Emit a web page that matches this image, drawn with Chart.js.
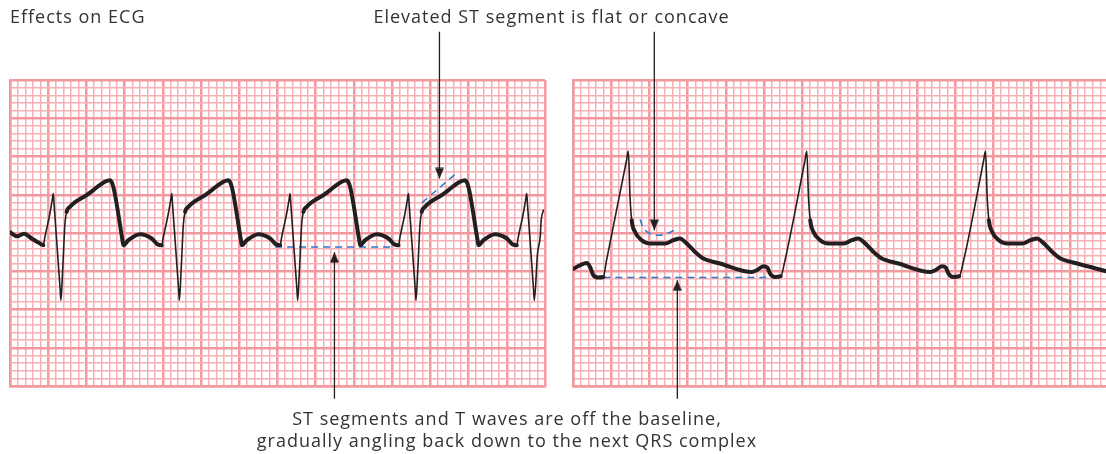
<!DOCTYPE html>
<html>
<head>
<meta charset="utf-8">
<script src="https://cdn.jsdelivr.net/npm/chart.js@4.4.1/dist/chart.umd.min.js"></script>
<style>
html,body{margin:0;padding:0;background:#fff;overflow:hidden}
#wrap{position:relative;width:1106px;height:454px;overflow:hidden;font-family:"Open Sans","Liberation Sans",sans-serif;color:#333}
canvas{position:absolute;top:0}
#cl{left:0;width:556px;height:454px}
#cr{left:563px;width:554px;height:454px}
.txt{position:absolute;white-space:nowrap;font-size:18px;line-height:22px;letter-spacing:1px}
</style>
</head>
<body>
<div id="wrap">
<canvas id="cl" width="556" height="454"></canvas>
<canvas id="cr" width="554" height="454"></canvas>
<div class="txt" style="left:10px;top:5px">Effects on ECG</div>
<div class="txt" style="left:0;width:1103px;text-align:center;top:5px">Elevated ST segment is flat or concave</div>
<div class="txt" style="left:0;width:1014px;text-align:center;top:407px">ST segments and T waves are off the baseline,<br>gradually angling back down to the next QRS complex</div>
</div>
<script>
// ============ DATA (units = small squares of ECG paper) ============
// left strip: sinus rhythm with upsloping ST elevation
const leftEcgX = [0,0.92,1.83,2.88,3.93,4.36,
  4.57,5.22,5.54,5.67,5.77,6.57,6.66,6.89,7.19,7.41,7.84,10.12,12.42,13.08,13.52,14.70,14.83,15.49,17.01,18.54,19.28,19.85,
  20.07,20.72,21.04,21.17,21.27,22.07,22.16,22.39,22.69,22.91,23.34,25.62,27.92,28.58,29.02,30.20,30.33,30.99,32.51,34.04,34.78,35.35,
  35.55,36.20,36.52,36.65,36.75,37.55,37.64,37.87,38.17,38.39,38.82,41.10,43.40,44.06,44.50,45.68,45.81,46.47,47.99,49.52,50.26,50.83,
  51.03,51.68,52.00,52.13,52.23,53.03,53.12,53.35,53.65,53.87,54.30,56.58,58.88,59.54,59.98,61.16,61.29,61.95,63.47,65.00,65.74,66.31,
  66.51,67.16,67.48,67.61,67.71,68.51,68.60,69.02,69.37,69.50,69.80];
const leftEcgY = [20.10,19.58,19.91,19.25,18.63,18.40,
  19.49,22.55,24.40,25.17,23.70,12.51,11.20,15.13,21.24,22.76,23.42,25.01,26.69,26.91,26.03,19.16,18.40,19.06,19.84,19.28,18.53,18.40,
  19.49,22.55,24.40,25.17,23.70,12.51,11.20,15.13,21.24,22.76,23.42,25.01,26.69,26.91,26.03,19.16,18.40,19.06,19.84,19.28,18.53,18.40,
  19.49,22.55,24.40,25.17,23.70,12.51,11.20,15.13,21.24,22.76,23.42,25.01,26.69,26.91,26.03,19.16,18.40,19.06,19.84,19.28,18.53,18.40,
  19.49,22.55,24.40,25.17,23.70,12.51,11.20,15.13,21.24,22.76,23.42,25.01,26.69,26.91,26.03,19.16,18.40,19.06,19.84,19.28,18.53,18.40,
  19.49,22.55,24.40,25.17,23.70,12.51,11.20,17.32,19.49,21.68,22.98];

// right strip: tall R waves, concave ST, slow slope back to next QRS
const rightEcgX = [0,0.92,1.79,2.23,2.66,3.31,3.97,4.36,6.98,
  7.24,7.46,7.68,8.12,8.99,10.08,12.04,13.13,14.01,14.66,15.97,17.06,19.24,23.39,24.04,24.91,25.43,25.79,26.44,27.19,27.71,30.33,
  30.59,30.81,31.04,31.47,32.34,33.43,35.39,36.48,37.36,38.01,39.32,40.41,42.59,46.74,47.40,48.26,48.78,49.14,49.79,50.54,51.09,53.71,
  53.97,54.19,54.42,54.85,55.72,56.81,58.77,59.86,60.74,61.39,62.70,63.79,65.97,69.80];
const rightEcgY = [15.30,15.79,16.09,15.56,14.48,14.18,14.25,16.30,29.38,
  30.70,24.73,21.68,20.14,19.06,18.63,18.63,19.06,19.28,18.84,17.53,16.66,16.01,14.91,15.13,15.65,15.48,14.70,14.25,14.35,16.30,29.38,
  30.70,24.73,21.68,20.14,19.06,18.63,18.63,19.06,19.28,18.84,17.53,16.66,16.01,14.91,15.13,15.65,15.48,14.70,14.25,14.35,16.30,29.38,
  30.70,24.73,21.68,20.14,19.06,18.63,18.63,19.06,19.28,18.84,17.53,16.66,16.01,15.00];

// blue dashed guides
const leftBaseX = [34.69,50.17], leftBaseY = [18.18,18.18];
const leftStX = [53.89,58.47], leftStY = [23.94,27.87];
const rightBaseX = [3.97,26.21], rightBaseY = [14.18,14.18];
const rightArcX = [8.77,9.42,10.96,12.47,13.57], rightArcY = [21.77,20.37,19.71,20.01,20.50];

// callout arrows: x, tail y, tip y
const leftArrowX = [56.19,42.45], leftArrowTail = [46.32,-1.66], leftArrowTip = [27.13,17.49];
const rightArrowX = [10.64,13.65], rightArrowTail = [46.32,-1.66], rightArrowTip = [20.37,13.82];

// paper
const squaresX = 70, squaresY = 40;

// ============ HELPERS ============
const INK = '#231f20', BLUE = '#2479d0';
const MAJOR = '#f3999f', MINOR = '#f7b0b5';

const pts = (xs, ys) => xs.map((x, i) => ({x, y: ys[i]}));

// tip of the triangle sits at the centre of the image, so the point value is the tip
const head = document.createElement('canvas');
head.width = 9; head.height = 22;
(() => {
  const c = head.getContext('2d');
  c.fillStyle = INK;
  c.beginPath(); c.moveTo(0, 0.5); c.lineTo(9, 0.5); c.lineTo(4.5, 11); c.closePath(); c.fill();
})();

// thin pen on the fast QRS strokes, heavy pen on slow ST/T parts
function penWidth(c) {
  const dx = Math.abs(c.p1.x - c.p0.x) || 0.01;
  const dy = c.p1.y - c.p0.y;
  const slope = Math.abs(dy) / dx;
  if ((dy < 0 && slope > 3) || (dy > 0 && slope > 8)) return 1.6;
  return 4;
}

function arrowSets(xs, tails, tips) {
  const sets = xs.map((x, i) => ({
    data: [{x, y: tails[i]}, {x, y: tips[i]}],
    borderColor: INK, borderWidth: 1.3, pointRadius: 0, clip: false
  }));
  sets.push({
    data: xs.map((x, i) => ({x, y: tips[i]})),
    showLine: false, pointStyle: head, clip: false,
    pointRotation: xs.map((x, i) => tips[i] < tails[i] ? 0 : 180)
  });
  return sets;
}

function dashed(xs, ys, tension) {
  return {data: pts(xs, ys), borderColor: BLUE, borderWidth: 1.5, borderDash: [7, 5],
          pointRadius: 0, tension: tension || 0, clip: false};
}

function gridScale(max) {
  return {
    type: 'linear', min: 0, max: max,
    ticks: {display: false, stepSize: 1, autoSkip: false},
    grid: {
      drawTicks: false,
      color: c => c.tick.value % 5 === 0 ? MAJOR : MINOR,
      lineWidth: c => c.tick.value % 5 === 0 ? 2.5 : 1.5
    },
    border: {display: true, color: MAJOR, width: 2.5}
  };
}

function panel(id, ecg, extra, pad) {
  return new Chart(document.getElementById(id), {
    type: 'line',
    data: {datasets: [{
      data: ecg, borderColor: INK, pointRadius: 0,
      cubicInterpolationMode: 'monotone', borderJoinStyle: 'round', borderCapStyle: 'round',
      segment: {borderWidth: penWidth}
    }].concat(extra)},
    options: {
      responsive: false, animation: false, devicePixelRatio: 1,
      layout: {padding: pad},
      plugins: {legend: {display: false}, tooltip: {enabled: false}},
      scales: {x: gridScale(squaresX), y: gridScale(squaresY)}
    }
  });
}

// ============ CHARTS ============
panel('cl', pts(leftEcgX, leftEcgY),
  [dashed(leftBaseX, leftBaseY), dashed(leftStX, leftStY)].concat(arrowSets(leftArrowX, leftArrowTail, leftArrowTip)),
  {left: 10, right: 11, top: 80, bottom: 68});

panel('cr', pts(rightEcgX, rightEcgY),
  [dashed(rightBaseX, rightBaseY), dashed(rightArcX, rightArcY, 0.4)].concat(arrowSets(rightArrowX, rightArrowTail, rightArrowTip)),
  {left: 10, right: 9, top: 80, bottom: 68});
</script>
</body>
</html>
